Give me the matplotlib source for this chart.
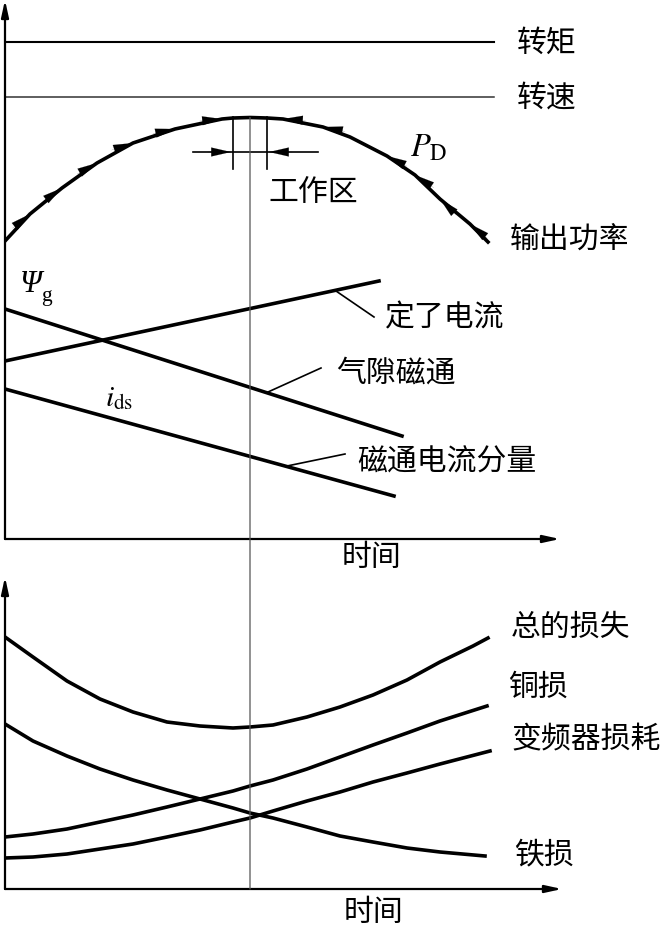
import numpy as np
import matplotlib
matplotlib.use("Agg")
import matplotlib.pyplot as plt
from matplotlib.patches import ConnectionPatch

plt.rcParams['font.family'] = ['Noto Sans CJK SC', 'DejaVu Sans']
plt.rcParams['mathtext.fontset'] = 'stix'

# ---- 上图数据 (时间, 数值) ----
torque_level = 9.94
speed_level = 8.84
line_end_t = 9.78

power_t = [0, 0.5, 1.14, 1.84, 2.56, 3.4, 4.34, 4.56, 4.9, 5.24, 5.56, 6.36, 6.9, 7.64, 8.2, 8.7, 9.3, 9.66]
power_v = [5.96, 6.5, 7.02, 7.52, 7.92, 8.2, 8.4, 8.42, 8.43, 8.42, 8.4, 8.24, 8.04, 7.66, 7.28, 6.8, 6.3, 5.94]
arrow_up_idx = [1, 2, 3, 4, 5, 6]          # 左侧箭头指向峰值
arrow_down_idx = [10, 11, 13, 14, 15, 16]  # 右侧箭头指向峰值

stator_t = [0, 7.48]
stator_v = [3.56, 5.16]
flux_t = [0, 7.94]
flux_v = [4.6, 2.06]
ids_t = [0, 7.78]
ids_v = [3.0, 0.86]

work_left, work_right = 4.56, 5.24
work_center = 4.9

# ---- 下图数据 ----
total_t = [0, 0.56, 1.24, 1.9, 2.56, 3.24, 3.9, 4.56, 4.9, 5.36, 6.04, 6.7, 7.36, 8.04, 8.7, 9.36, 9.66]
total_v = [5.04, 4.64, 4.16, 3.8, 3.54, 3.34, 3.26, 3.22, 3.24, 3.28, 3.44, 3.64, 3.88, 4.18, 4.54, 4.86, 5.02]
iron_t = [0, 0.56, 1.24, 1.9, 2.56, 3.24, 3.9, 4.56, 4.9, 5.36, 6.04, 6.7, 7.36, 8.04, 8.7, 9.6]
iron_v = [3.3, 2.96, 2.66, 2.4, 2.18, 1.98, 1.8, 1.62, 1.52, 1.42, 1.24, 1.06, 0.94, 0.82, 0.74, 0.66]
copper_t = [0, 0.56, 1.24, 1.9, 2.56, 3.24, 3.9, 4.56, 4.9, 5.36, 6.04, 6.7, 7.36, 8.04, 8.7, 9.64]
copper_v = [1.04, 1.1, 1.2, 1.34, 1.48, 1.64, 1.8, 1.96, 2.06, 2.18, 2.4, 2.64, 2.88, 3.12, 3.36, 3.66]
inv_t = [0, 0.56, 1.24, 1.9, 2.56, 3.24, 3.9, 4.56, 4.9, 5.36, 6.04, 6.7, 7.36, 8.04, 8.7, 9.7]
inv_v = [0.62, 0.64, 0.7, 0.8, 0.9, 1.04, 1.18, 1.34, 1.42, 1.56, 1.76, 1.94, 2.14, 2.32, 2.5, 2.76]

W, H = 665, 929
fig = plt.figure(figsize=(W / 100, H / 100), dpi=100)
ax1 = fig.add_axes([5 / W, (H - 540) / H, 560 / W, 540 / H])
ax2 = fig.add_axes([5 / W, (H - 890) / H, 560 / W, 315 / H])
ax1.set_xlim(0, 11.2)
ax1.set_ylim(0, 10.8)
ax2.set_xlim(0, 11.2)
ax2.set_ylim(0, 6.3)
for ax in (ax1, ax2):
    ax.axis('off')

fs = 21.5
thick = 2.6
axis_arrow = dict(arrowstyle='-|>,head_length=1.0,head_width=0.22', color='k', lw=1.6,
                  shrinkA=0, shrinkB=0)
small_arrow = dict(arrowstyle='-|>,head_length=1.4,head_width=0.32', color='k', lw=0.1,
                   shrinkA=0, shrinkB=0)


def draw_axes(ax, xmax, ymax):
    ax.annotate('', xy=(xmax, 0), xytext=(0, 0), arrowprops=axis_arrow, annotation_clip=False)
    ax.annotate('', xy=(0, ymax), xytext=(0, 0), arrowprops=axis_arrow, annotation_clip=False)


# ---- 上图 ----
draw_axes(ax1, 11.1, 10.78)
ax1.plot([0, line_end_t], [torque_level] * 2, color='k', lw=1.5)
ax1.plot([0, line_end_t], [speed_level] * 2, color='#333333', lw=1.1)
ax1.text(10.24, torque_level, '转矩', fontsize=fs, va='center', ha='left')
ax1.text(10.24, speed_level, '转速', fontsize=fs, va='center', ha='left')

ax1.plot(power_t, power_v, color='k', lw=thick, solid_joinstyle='round')
pts = np.column_stack([power_t, power_v])
for i in arrow_up_idx + arrow_down_idx:
    nxt = pts[i + 1] if i in arrow_up_idx else pts[i - 1]
    d = nxt - pts[i]
    d = d / np.hypot(*d)
    ax1.annotate('', xy=pts[i], xytext=pts[i] - 0.45 * d, arrowprops=small_arrow)

# 工作区
ax1.plot([work_left] * 2, [8.44, 7.4], color='k', lw=1.2)
ax1.plot([work_right] * 2, [8.44, 7.4], color='k', lw=1.2)
ax1.plot([3.76, 6.26], [7.74, 7.74], color='k', lw=1.2)
ax1.annotate('', xy=(work_left - 0.04, 7.74), xytext=(work_left - 0.5, 7.74), arrowprops=small_arrow)
ax1.annotate('', xy=(work_right + 0.04, 7.74), xytext=(work_right + 0.5, 7.74), arrowprops=small_arrow)
ax1.text(5.26, 6.94, '工作区', fontsize=fs, va='center', ha='left')
ax1.text(8.1, 7.84, r'$P_{\mathrm{D}}$', fontsize=fs + 2, va='center', ha='left')
ax1.text(10.1, 6.0, '输出功率', fontsize=fs, va='center', ha='left')

ax1.plot(stator_t, stator_v, color='k', lw=thick)
ax1.plot(flux_t, flux_v, color='k', lw=thick)
ax1.plot(ids_t, ids_v, color='k', lw=thick)

ax1.plot([6.62, 7.38], [4.96, 4.44], color='k', lw=1.2)
ax1.text(7.6, 4.44, '定了电流', fontsize=fs, va='center', ha='left')
ax1.plot([5.26, 6.32], [2.94, 3.42], color='k', lw=1.2)
ax1.text(6.62, 3.34, '气隙磁通', fontsize=fs, va='center', ha='left')
ax1.plot([5.64, 6.8], [1.46, 1.7], color='k', lw=1.2)
ax1.text(7.04, 1.56, '磁通电流分量', fontsize=fs, va='center', ha='left')

ax1.text(0.3, 5.1, 'Ψ', fontsize=fs + 1, family='Liberation Serif', style='italic',
         va='center', ha='left')
ax1.text(0.72, 4.86, 'g', fontsize=fs - 6, family='Liberation Serif', va='center', ha='left')
ax1.text(2.0, 2.84, r'$i_{\mathrm{ds}}$', fontsize=fs, va='center', ha='left')
ax1.text(7.34, -0.36, '时间', fontsize=fs, va='center', ha='center')

# ---- 下图 ----
draw_axes(ax2, 11.14, 6.24)
for tt, vv in [(total_t, total_v), (iron_t, iron_v), (copper_t, copper_v), (inv_t, inv_v)]:
    ax2.plot(tt, vv, color='k', lw=thick, solid_joinstyle='round')
ax2.text(10.12, 5.26, '总的损失', fontsize=fs, va='center', ha='left')
ax2.text(10.06, 4.06, '铜损', fontsize=fs, va='center', ha='left')
ax2.text(10.12, 3.0, '变频器损耗', fontsize=fs, va='center', ha='left')
ax2.text(10.18, 0.7, '铁损', fontsize=fs, va='center', ha='left')
ax2.text(7.38, -0.46, '时间', fontsize=fs, va='center', ha='center')

# 贯穿两图的竖线
con = ConnectionPatch(xyA=(work_center, 8.43), coordsA=ax1.transData,
                      xyB=(work_center, 0), coordsB=ax2.transData,
                      color='#555555', lw=0.9)
fig.add_artist(con)

fig.savefig('out.png', dpi=100)
